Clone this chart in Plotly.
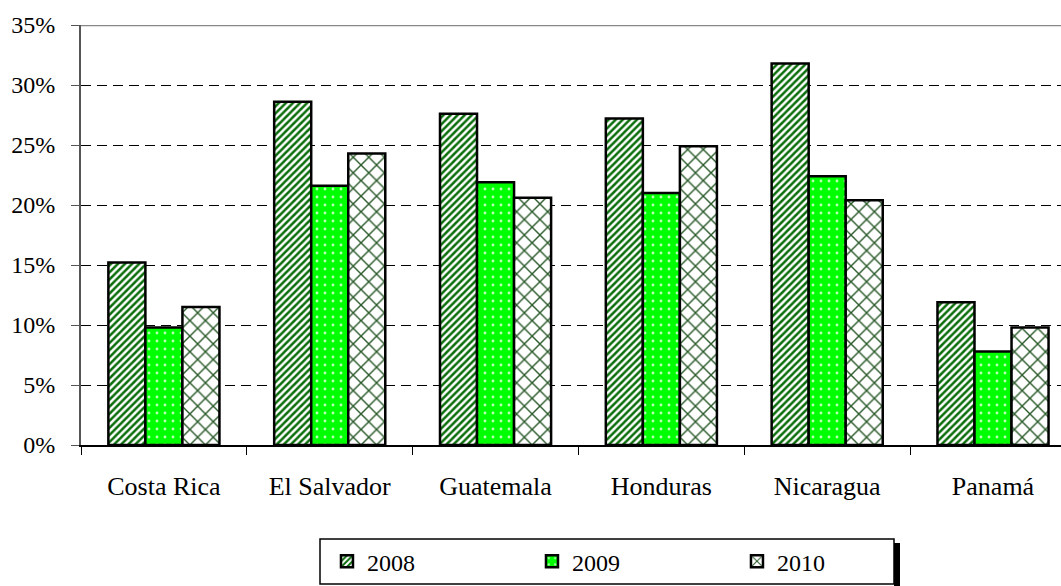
import plotly.graph_objects as go

countries = ["Costa Rica", "El Salvador", "Guatemala", "Honduras", "Nicaragua", "Panamá"]
y2008 = [15.2, 28.6, 27.6, 27.2, 31.8, 11.9]
y2009 = [9.8, 21.6, 21.9, 21.0, 22.4, 7.8]
y2010 = [11.5, 24.3, 20.6, 24.9, 20.4, 9.8]
years = ["2008", "2009", "2010"]

FONT = "Liberation Serif"

styles = [
    dict(color="white", pattern=dict(shape="/", fgcolor="#0b6e0b", bgcolor="white",
                                     size=5, solidity=0.5, fgopacity=1)),
    dict(color="#00ff00", pattern=dict(shape=".", fgcolor="#b8ffb8", bgcolor="#00ff00",
                                       size=8, solidity=0.1, fgopacity=1)),
    dict(color="white", pattern=dict(shape="x", fgcolor="#2a5a2a", bgcolor="white",
                                     size=11, solidity=0.24, fgopacity=1)),
]

fig = go.Figure()
for name, vals, st in zip(years, [y2008, y2009, y2010], styles):
    fig.add_trace(go.Bar(
        x=countries, y=vals, name=name,
        marker=dict(color=st["color"], pattern=st["pattern"],
                    line=dict(color="black", width=2.5)),
    ))

# plot area spans 81..1061 px, categories are ~166 px wide
fig.update_layout(
    width=1061, height=586,
    margin=dict(l=81, r=0, t=25, b=141),
    plot_bgcolor="white", paper_bgcolor="white",
    font=dict(family=FONT, size=24, color="black"),
    barmode="group", bargap=0.33, bargroupgap=0,
    showlegend=True,
    legend=dict(
        orientation="h", x=0.251, xanchor="left", y=-0.224, yanchor="top",
        borderwidth=0, bgcolor="rgba(0,0,0,0)",
        entrywidth=160, font=dict(family=FONT, size=24),
        itemwidth=30,
    ),
    xaxis=dict(
        range=[-0.5, 5.41], tickson="boundaries", ticks="outside", ticklen=8,
        tickcolor="black", showline=True, linecolor="black", linewidth=1.5,
        showgrid=False, ticklabelstandoff=17, tickfont=dict(size=26),
    ),
    yaxis=dict(
        range=[0, 35], dtick=5, ticksuffix="%", ticks="outside", ticklen=8,
        tickcolor="#555", showline=True, linecolor="#555", linewidth=2,
        showgrid=True, gridcolor="black", gridwidth=1, griddash="10px,6px",
        zeroline=False, ticklabelstandoff=11,
    ),
)

# solid gray top border at 35%
fig.add_shape(type="line", xref="paper", yref="y", x0=0, x1=1, y0=35, y1=35,
              line=dict(color="#888", width=2.5))
# legend drop shadow and frame
fig.add_shape(type="rect", xref="paper", yref="paper",
              x0=(894 - 81) / 980, x1=(900 - 81) / 980,
              y0=(445 - 586) / 420, y1=(445 - 543) / 420,
              fillcolor="black", line=dict(width=0))
fig.add_shape(type="rect", xref="paper", yref="paper",
              x0=(320 - 81) / 980, x1=(894 - 81) / 980,
              y0=(445 - 584) / 420, y1=(445 - 539) / 420,
              fillcolor="white", line=dict(color="black", width=1.5))

fig.write_html("out.html", config={"displayModeBar": False},
               post_script="document.body.style.margin='0';")
